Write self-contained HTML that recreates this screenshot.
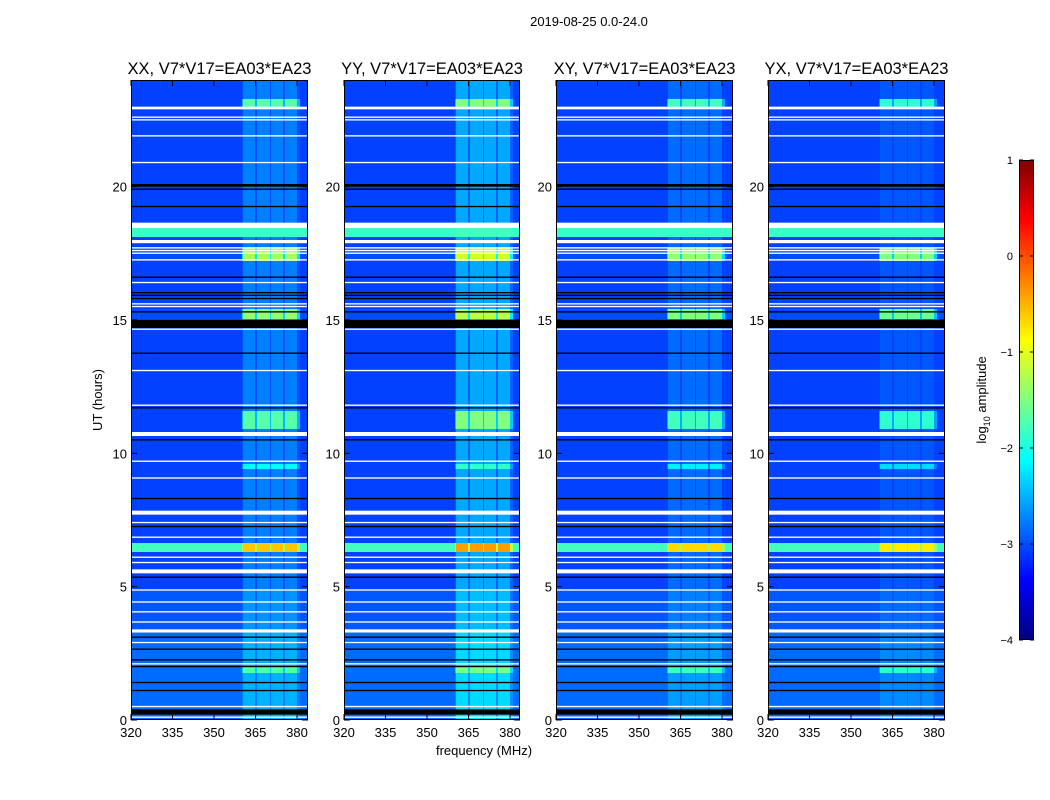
<!DOCTYPE html>
<html><head><meta charset="utf-8">
<style>
body{margin:0;background:#fff;width:1050px;height:800px;overflow:hidden;position:relative;font-family:"Liberation Sans",sans-serif}
canvas{position:absolute;image-rendering:pixelated}
svg{position:absolute;left:0;top:0}
</style></head>
<body>
<canvas id="c0" width="177" height="640" style="left:131px;top:80px"></canvas>
<canvas id="c1" width="176" height="640" style="left:344px;top:80px"></canvas>
<canvas id="c2" width="177" height="640" style="left:556px;top:80px"></canvas>
<canvas id="c3" width="177" height="640" style="left:768px;top:80px"></canvas>
<canvas id="cb" width="15" height="480" style="left:1019px;top:160px"></canvas>
<svg id="s" width="1050" height="800"></svg>
<script>
// ---- data ----
const panelTitles = ["XX, V7*V17=EA03*EA23","YY, V7*V17=EA03*EA23","XY, V7*V17=EA03*EA23","YX, V7*V17=EA03*EA23"];
const panelLeft = [131,344,556,768];
const panelBandOffset = [0, 0.2, -0.1, -0.2];
const xTicks = [320,335,350,365,380];
const yTicks = [0,5,10,15,20];
const cbTicks = [1,0,-1,-2,-3,-4];
const bandLo = [360.5,365.5,370.6,375.7];
const bandHi = [364.8,370.2,374.9,380.0];
const segStart = [0,    3.3,  1.75, 6.3, 10.9, 15.05, 17.2, 18.1, 22.95, 9.4];
const segEnd   = [3.3,  4.9,  2.0,  6.65,11.6, 15.4,  17.7, 18.45,23.3,  9.6];
const segBase  = [-2.85,-2.95,-2.85,-1.8,-3.05,-3.0,  -3.0, -1.85,-3.05, -3.05];
const segBand  = [-2.5, -2.65,-1.7, -0.6,-1.7, -1.4,  -1.3, -2.0, -1.7,  -2.1];
const whiteStart=[0.08,0.48,2.08,2.88,3.28,3.65,4.03,4.4,4.85,5.5,5.88,6.08,6.83,7.38,7.7,9.05,9.68,10.65,11.78,13.08,14.63,15.48,15.58,16.38,17.23,17.48,17.58,17.68,17.88,18.45,20.88,21.88,22.48,22.58,22.9];
const whiteEnd  =[0.13,0.53,2.13,2.93,3.4, 3.7, 4.08,4.45,4.9,5.65,5.93,6.13,6.88,7.43,7.85,9.1,9.73,10.8, 11.83,13.13,14.68,15.53,15.63,16.43,17.28,17.53,17.63,17.73,18.0,18.65,20.93,21.93,22.53,22.63,23.0];
const blackStart=[0.2,1.08,1.38,1.98,2.23,2.63,3.08,5.33,7.23,8.28,10.48,11.68,13.73,14.7,15.28,15.78,15.9,16.0,16.58,19.23,19.88,20.0];
const blackEnd  =[0.4,1.13,1.43,2.03,2.28,2.68,3.13,5.38,7.28,8.33,10.53,11.73,13.78,15.0,15.33,15.83,15.95,16.05,16.63,19.28,19.93,20.1];
// ---- helpers ----
const Y0=720, PH=640;
function fx(f){return (f-320)*2.767;}
function fy(h){return h*PH/24;}
function jet(t){t=Math.max(0,Math.min(1,t));const c=v=>Math.round(255*Math.max(0,Math.min(1,v)));
 return [c(1.5-Math.abs(4*t-3)),c(1.5-Math.abs(4*t-2)),c(1.5-Math.abs(4*t-1))];}
function val2t(v){return (v+4)/5;}
function drawPanel(p){
 const cv=document.getElementById('c'+p), ctx=cv.getContext('2d');
 const W=cv.width, img=ctx.createImageData(W,PH);
 for(let y=0;y<PH;y++){
  const h=(PH-y-0.5)*24/PH;
  let base=-3.05, band=-2.75;
  for(let i=0;i<segStart.length;i++) if(h>=segStart[i]&&h<segEnd[i]){base=segBase[i];band=segBand[i];}
  band+=panelBandOffset[p];
  for(let x=0;x<W;x++){
   const f=320+(x+0.5)/2.767;
   let v=base, inb=false;
   for(let b=0;b<4;b++) if(f>=bandLo[b]&&f<=bandHi[b]) inb=true;
   if(inb) v=Math.max(base,band); else if(f>360&&f<381) v=Math.max(base,(base+band)/2-0.1);
   const c=jet(val2t(v)), k=(y*W+x)*4;
   img.data[k]=c[0];img.data[k+1]=c[1];img.data[k+2]=c[2];img.data[k+3]=255;
  }
 }
 ctx.putImageData(img,0,0);
 ctx.fillStyle='#fff';
 for(let i=0;i<whiteStart.length;i++){const a=PH-fy(whiteEnd[i]),b=PH-fy(whiteStart[i]);ctx.fillRect(0,a,W,Math.max(1.2,b-a));}
 ctx.fillStyle='#000';
 for(let i=0;i<blackStart.length;i++){const a=PH-fy(blackEnd[i]),b=PH-fy(blackStart[i]);ctx.fillRect(0,a,W,Math.max(1.2,b-a));}
}
for(let p=0;p<4;p++) drawPanel(p);
(function(){const cv=document.getElementById('cb'),ctx=cv.getContext('2d');
 for(let y=0;y<480;y++){const c=jet(1-(y+0.5)/480);ctx.fillStyle=`rgb(${c[0]},${c[1]},${c[2]})`;ctx.fillRect(0,y,15,1);}})();
const s=document.getElementById('s'), NS='http://www.w3.org/2000/svg';
function el(t,a,txt){const e=document.createElementNS(NS,t);for(const k in a)e.setAttribute(k,a[k]);if(txt!==undefined)e.textContent=txt;s.appendChild(e);return e;}
let e=el('text',{x:589,y:26,'font-size':13,'text-anchor':'middle'},'2019-08-25 0.0-24.0');


for(let p=0;p<4;p++){
 const L=panelLeft[p], W=(p==1?176:177);
 e=el('text',{x:L+W/2,y:74,'font-size':16.5,'text-anchor':'middle'},panelTitles[p]);
 
 
 e=el('rect',{x:L+0.5,y:80.5,width:W-1,height:PH-1,fill:'none',stroke:'#000','stroke-width':1});
 
 
 xTicks.forEach(v=>{const x=L+fx(v);
  el('line',{x1:x,x2:x,y1:720,y2:714,stroke:'#000'});el('line',{x1:x,x2:x,y1:80,y2:86,stroke:'#000'});
  e=el('text',{x:x,y:737,'font-size':13,'text-anchor':'middle'},String(v));
  
  });
 yTicks.forEach(v=>{const y=Y0-fy(v);
  el('line',{x1:L,x2:L+6,y1:y,y2:y,stroke:'#000'});el('line',{x1:L+W-6,x2:L+W,y1:y,y2:y,stroke:'#000'});
  e=el('text',{x:L-4,y:y+5,'font-size':13,'text-anchor':'end'},String(v));
  
  });
}
e=el('text',{x:484,y:755,'font-size':13,'text-anchor':'middle'},'frequency (MHz)');


e=el('text',{x:0,y:0,'font-size':13,'text-anchor':'middle',transform:'translate(102,400) rotate(-90)'},'UT (hours)');


el('rect',{x:1019.5,y:160.5,width:14,height:479,fill:'none',stroke:'#000'});
cbTicks.forEach(v=>{const y=160+(1-v)*96;
 el('line',{x1:1019,x2:1023,y1:y,y2:y,stroke:'#000'});el('line',{x1:1030,x2:1034,y1:y,y2:y,stroke:'#000'});
 e=el('text',{x:1013,y:y+4,'font-size':11,'text-anchor':'end'},v<0?'\u2212'+(-v):String(v));
 
 });
e=el('text',{x:0,y:0,'font-size':13,'text-anchor':'middle',transform:'translate(986,400) rotate(-90)'});


e.innerHTML='log<tspan font-size="9" dy="4">10</tspan><tspan dy="-4"> amplitude</tspan>';
</script>
</body></html>
